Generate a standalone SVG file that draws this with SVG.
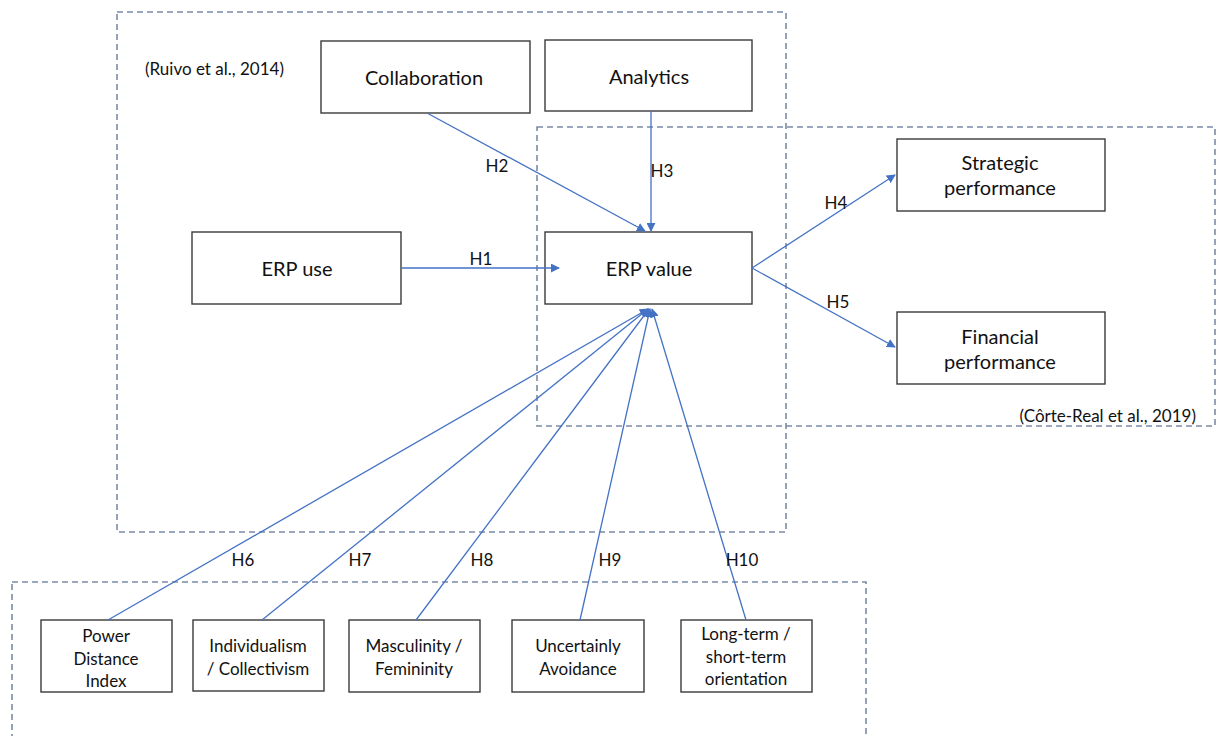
<svg xmlns="http://www.w3.org/2000/svg" width="1218" height="736" viewBox="0 0 1218 736">
<defs>
<style>
.grp{fill:none;stroke:#7b8aa6;stroke-width:1.6;stroke-dasharray:6 4}
.box{fill:#fff;stroke:#3a3a3a;stroke-width:1.4}
.t{font-family:Lato,"Liberation Sans",sans-serif;font-size:20px;fill:#111;text-anchor:middle}
.s{font-family:Lato,"Liberation Sans",sans-serif;font-size:17px;fill:#111;text-anchor:middle}
.h{font-family:Lato,"Liberation Sans",sans-serif;font-size:17px;fill:#111;text-anchor:middle}
.c{font-family:Lato,"Liberation Sans",sans-serif;font-size:17px;fill:#111}
.e{fill:none;stroke:#4472c4;stroke-width:1.3;marker-end:url(#ah)}
</style>
<marker id="ah" viewBox="0 0 10 10" refX="9" refY="5" markerWidth="9" markerHeight="9" markerUnits="userSpaceOnUse" orient="auto">
<path d="M0,0 L10,5 L0,10 z" fill="#4472c4"/>
</marker>
</defs>
<rect width="1218" height="736" fill="#fff"/>
<g id="groups">
<rect class="grp" x="117" y="12" width="669" height="520"/>
<rect class="grp" x="537" y="127" width="678" height="299"/>
<rect class="grp" x="12" y="582" width="854" height="170"/>
<text class="c" x="145" y="75">(Ruivo et al., 2014)</text>
<text class="c" x="1196" y="422" text-anchor="end">(Côrte-Real et al., 2019)</text>
</g>
<g id="collaboration"><rect class="box" x="321" y="41" width="209" height="72"/><text class="t" x="424" y="85">Collaboration</text></g>
<g id="analytics"><rect class="box" x="545" y="40" width="207" height="71"/><text class="t" x="649" y="84">Analytics</text></g>
<g id="erp-use"><rect class="box" x="192" y="232" width="209" height="72"/><text class="t" x="297" y="276">ERP use</text></g>
<g id="erp-value"><rect class="box" x="545" y="232" width="207" height="72"/><text class="t" x="649" y="276">ERP value</text></g>
<g id="strategic"><rect class="box" x="897" y="139" width="208" height="72"/><text class="t" x="1000" y="170">Strategic</text><text class="t" x="1000" y="195">performance</text></g>
<g id="financial"><rect class="box" x="897" y="312" width="208" height="72"/><text class="t" x="1000" y="344">Financial</text><text class="t" x="1000" y="369">performance</text></g>
<g id="pdi"><rect class="box" x="41" y="620" width="131" height="72"/><text class="s" x="106" y="642">Power</text><text class="s" x="106" y="665">Distance</text><text class="s" x="106" y="687">Index</text></g>
<g id="idv"><rect class="box" x="193" y="620" width="131" height="71"/><text class="s" x="258" y="652">Individualism</text><text class="s" x="258" y="675">/ Collectivism</text></g>
<g id="mas"><rect class="box" x="349" y="620" width="131" height="72"/><text class="s" x="414" y="652">Masculinity /</text><text class="s" x="414" y="675">Femininity</text></g>
<g id="uai"><rect class="box" x="512" y="620" width="132" height="72"/><text class="s" x="578" y="652">Uncertainly</text><text class="s" x="578" y="675">Avoidance</text></g>
<g id="lto"><rect class="box" x="681" y="620" width="131" height="72"/><text class="s" x="746" y="640">Long-term /</text><text class="s" x="746" y="663">short-term</text><text class="s" x="746" y="685">orientation</text></g>
<g id="connectors">
<line class="e" x1="427" y1="113" x2="645" y2="231"/>
<line class="e" x1="651" y1="111" x2="651" y2="231"/>
<line class="e" x1="401" y1="268" x2="559" y2="268"/>
<line class="e" x1="752" y1="268" x2="895" y2="175"/>
<line class="e" x1="752" y1="268" x2="895" y2="347"/>
<line class="e" x1="108" y1="620" x2="648" y2="309"/>
<line class="e" x1="262" y1="620" x2="648" y2="309"/>
<line class="e" x1="416" y1="620" x2="649" y2="309"/>
<line class="e" x1="580" y1="620" x2="650" y2="309"/>
<line class="e" x1="746" y1="620" x2="652" y2="309"/>
<text class="h" x="497" y="172">H2</text>
<text class="h" x="662" y="177">H3</text>
<text class="h" x="481" y="265">H1</text>
<text class="h" x="836" y="209">H4</text>
<text class="h" x="838" y="308">H5</text>
<text class="h" x="243" y="566">H6</text>
<text class="h" x="360" y="566">H7</text>
<text class="h" x="482" y="566">H8</text>
<text class="h" x="610" y="566">H9</text>
<text class="h" x="742" y="566">H10</text>
</g>
</svg>
